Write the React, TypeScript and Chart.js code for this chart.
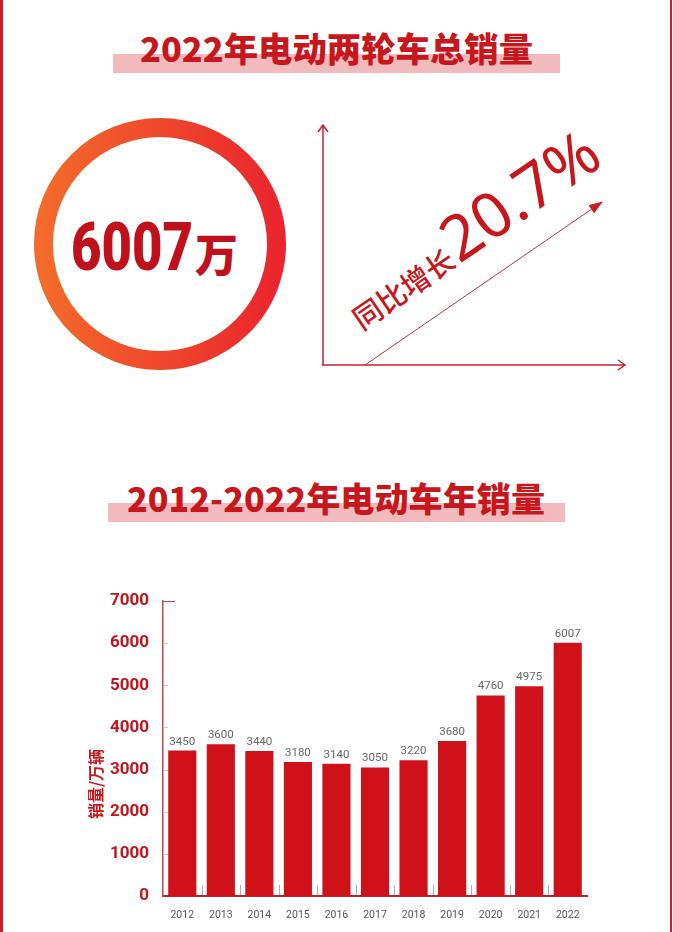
import { useEffect, useRef } from 'react';
import { Chart, registerables } from 'chart.js';

Chart.register(...registerables);

const YEARS = ['2012', '2013', '2014', '2015', '2016', '2017', '2018', '2019', '2020', '2021', '2022'];
const SALES = [3450, 3600, 3440, 3180, 3140, 3050, 3220, 3680, 4760, 4975, 6007];
const Y_MAX = 7000;
const Y_STEP = 1000;
const Y_TITLE = '销量/万辆';

const TITLE_TOP = '2022年电动两轮车总销量';
const TITLE_BOTTOM = '2012-2022年电动车年销量';
const TOTAL = '6007';
const TOTAL_UNIT = '万';
const GROWTH_LABEL = '同比增长';
const GROWTH = '20.7%';

const RED = '#c8161d';
const DARK_RED = '#c0101b';
const CJK = '"Noto Sans CJK SC", sans-serif';

// 柱顶数值
const barLabels = {
    id: 'barLabels',
    afterDatasetsDraw(chart: any) {
        const { ctx } = chart;
        const meta = chart.getDatasetMeta(0);
        ctx.save();
        ctx.font = '11.5px Roboto';
        ctx.fillStyle = '#666';
        ctx.textAlign = 'center';
        ctx.textBaseline = 'alphabetic';
        meta.data.forEach((bar: any, i: number) => {
            ctx.fillText(String(SALES[i]), bar.x, bar.y - 6);
        });
        ctx.restore();
    }
};

// 刻度线画在轴的内侧
const innerTicks = {
    id: 'innerTicks',
    afterDraw(chart: any) {
        const { ctx, chartArea, scales: { x, y } } = chart;
        ctx.save();
        ctx.lineWidth = 1;
        ctx.strokeStyle = '#aab0c2';
        for (let i = 1; i < x.ticks.length; i++) {
            const px = Math.round((x.getPixelForTick(i - 1) + x.getPixelForTick(i)) / 2) + 0.5;
            ctx.beginPath();
            ctx.moveTo(px, chartArea.bottom - 1);
            ctx.lineTo(px, chartArea.bottom - 11);
            ctx.stroke();
        }
        y.ticks.forEach((t: any) => {
            if (t.value === 0) return;
            const py = Math.round(y.getPixelForValue(t.value)) + 0.5;
            const top = t.value === Y_MAX;
            ctx.strokeStyle = top ? '#b8484a' : '#d0c8c8';
            ctx.beginPath();
            ctx.moveTo(chartArea.left, py);
            ctx.lineTo(chartArea.left + (top ? 12 : 5), py);
            ctx.stroke();
        });
        ctx.restore();
    }
};

const yTitle = {
    id: 'yTitle',
    afterDraw(chart: any) {
        const { ctx, chartArea } = chart;
        ctx.save();
        ctx.translate(chartArea.left - 67, chartArea.bottom - 112);
        ctx.rotate(-Math.PI / 2);
        ctx.font = 'bold 16px "Noto Sans CJK SC"';
        ctx.fillStyle = RED;
        ctx.textAlign = 'center';
        ctx.textBaseline = 'middle';
        ctx.fillText(Y_TITLE, 0, 0);
        ctx.restore();
    }
};

function SalesChart() {
    const canvasRef = useRef<HTMLCanvasElement | null>(null);
    const chartInstance = useRef<Chart | null>(null);

    useEffect(() => {
        if (!canvasRef.current) return;
        if (chartInstance.current) chartInstance.current.destroy();

        chartInstance.current = new Chart(canvasRef.current, {
            type: 'bar',
            data: {
                labels: YEARS,
                datasets: [{
                    data: SALES,
                    backgroundColor: '#cf121a',
                    categoryPercentage: 1,
                    barPercentage: 0.73,
                }]
            },
            options: {
                animation: false,
                responsive: true,
                maintainAspectRatio: false,
                layout: { padding: { top: 23, right: 13, left: 0, bottom: 0 } },
                plugins: {
                    legend: { display: false },
                    tooltip: { enabled: false },
                },
                scales: {
                    x: {
                        grid: { display: false },
                        border: { display: true, color: '#c41f26', width: 2 },
                        ticks: { color: '#555', font: { family: 'Roboto', size: 10.5 }, padding: 5 },
                        afterFit: (s: any) => { s.height = 34; },
                    },
                    y: {
                        min: 0,
                        max: Y_MAX,
                        grid: { display: false },
                        border: { display: true, color: '#b8484a', width: 1.5 },
                        ticks: {
                            stepSize: Y_STEP,
                            color: '#c0151d',
                            font: { family: 'Roboto', size: 17, weight: 'bold' },
                            padding: 6,
                            callback: (v: any) => String(v),
                        },
                        afterFit: (s: any) => { s.width = 93; },
                    }
                }
            },
            plugins: [barLabels, innerTicks, yTitle]
        });

        return () => {
            if (chartInstance.current) {
                chartInstance.current.destroy();
                chartInstance.current = null;
            }
        };
    }, []);

    return (
        <div style={{ position: 'absolute', left: 70, top: 578, width: 530, height: 352 }}>
            <canvas ref={canvasRef}></canvas>
        </div>
    );
}

function Header() {
    return (
        <svg width={673} height={540} style={{ position: 'absolute', left: 0, top: 0 }}>
            <defs>
                <linearGradient id="ring" x1="0" y1="0" x2="1" y2="0">
                    <stop offset="0" stopColor="#f36a2b" />
                    <stop offset="1" stopColor="#ea252d" />
                </linearGradient>
                <marker id="tri" viewBox="0 0 14 10" refX="13" refY="5" markerWidth="14" markerHeight="10"
                    markerUnits="userSpaceOnUse" orient="auto">
                    <path d="M0,0 L14,5 L0,10 z" fill="#c41f26" />
                </marker>
            </defs>

            <rect x={113} y={54} width={447} height={19} fill="#f3babe" />
            <text x={140} y={62} textLength={393} lengthAdjust="spacingAndGlyphs"
                fontFamily={CJK} fontWeight={900} fontSize={34} fill={RED}>{TITLE_TOP}</text>

            <circle cx={160} cy={244} r={116.5} fill="none" stroke="url(#ring)" strokeWidth={19} />
            <text x={71} y={270} textLength={122} lengthAdjust="spacingAndGlyphs"
                fontFamily="Roboto" fontWeight={900} fontSize={66} fill={DARK_RED}>{TOTAL}</text>
            <text x={195} y={272} textLength={43} lengthAdjust="spacingAndGlyphs"
                fontFamily={CJK} fontWeight={900} fontSize={45} fill={DARK_RED}>{TOTAL_UNIT}</text>

            <g stroke="#c41f26" strokeWidth={1.5} fill="none">
                <line x1={323} y1={125} x2={323} y2={365} />
                <line x1={322} y1={365} x2={625} y2={365} />
                <polyline points="318,132 323,125 328,132" />
                <polyline points="618,360 625,365 618,370" />
            </g>
            <line x1={365} y1={365} x2={602} y2={202} stroke="#b8343a" strokeWidth={1} markerEnd="url(#tri)" />

            <text transform="translate(362,331) rotate(-34.5)" fill={RED}>
                <tspan fontFamily={CJK} fontWeight={500} fontSize={29}>{GROWTH_LABEL}</tspan>
                <tspan fontFamily='"Noto Sans", sans-serif' fontWeight={400} fontSize={63} dx={2}>{GROWTH}</tspan>
            </text>

            <rect x={108} y={503} width={457} height={19} fill="#f3babe" />
            <text x={127} y={512} textLength={418} lengthAdjust="spacingAndGlyphs"
                fontFamily={CJK} fontWeight={900} fontSize={34} fill={RED}>{TITLE_BOTTOM}</text>
        </svg>
    );
}

export default function App() {
    return (
        <div style={{ position: 'relative', width: 673, height: 932, background: '#fff', overflow: 'hidden' }}>
            <style>{`body{margin:0}`}</style>
            <div style={{ position: 'absolute', left: 0, top: 0, width: 3, height: 932, background: '#c8202a' }} />
            <div style={{ position: 'absolute', left: 670, top: 0, width: 2, height: 932, background: '#c8202a' }} />
            <Header />
            <SalesChart />
        </div>
    );
}
